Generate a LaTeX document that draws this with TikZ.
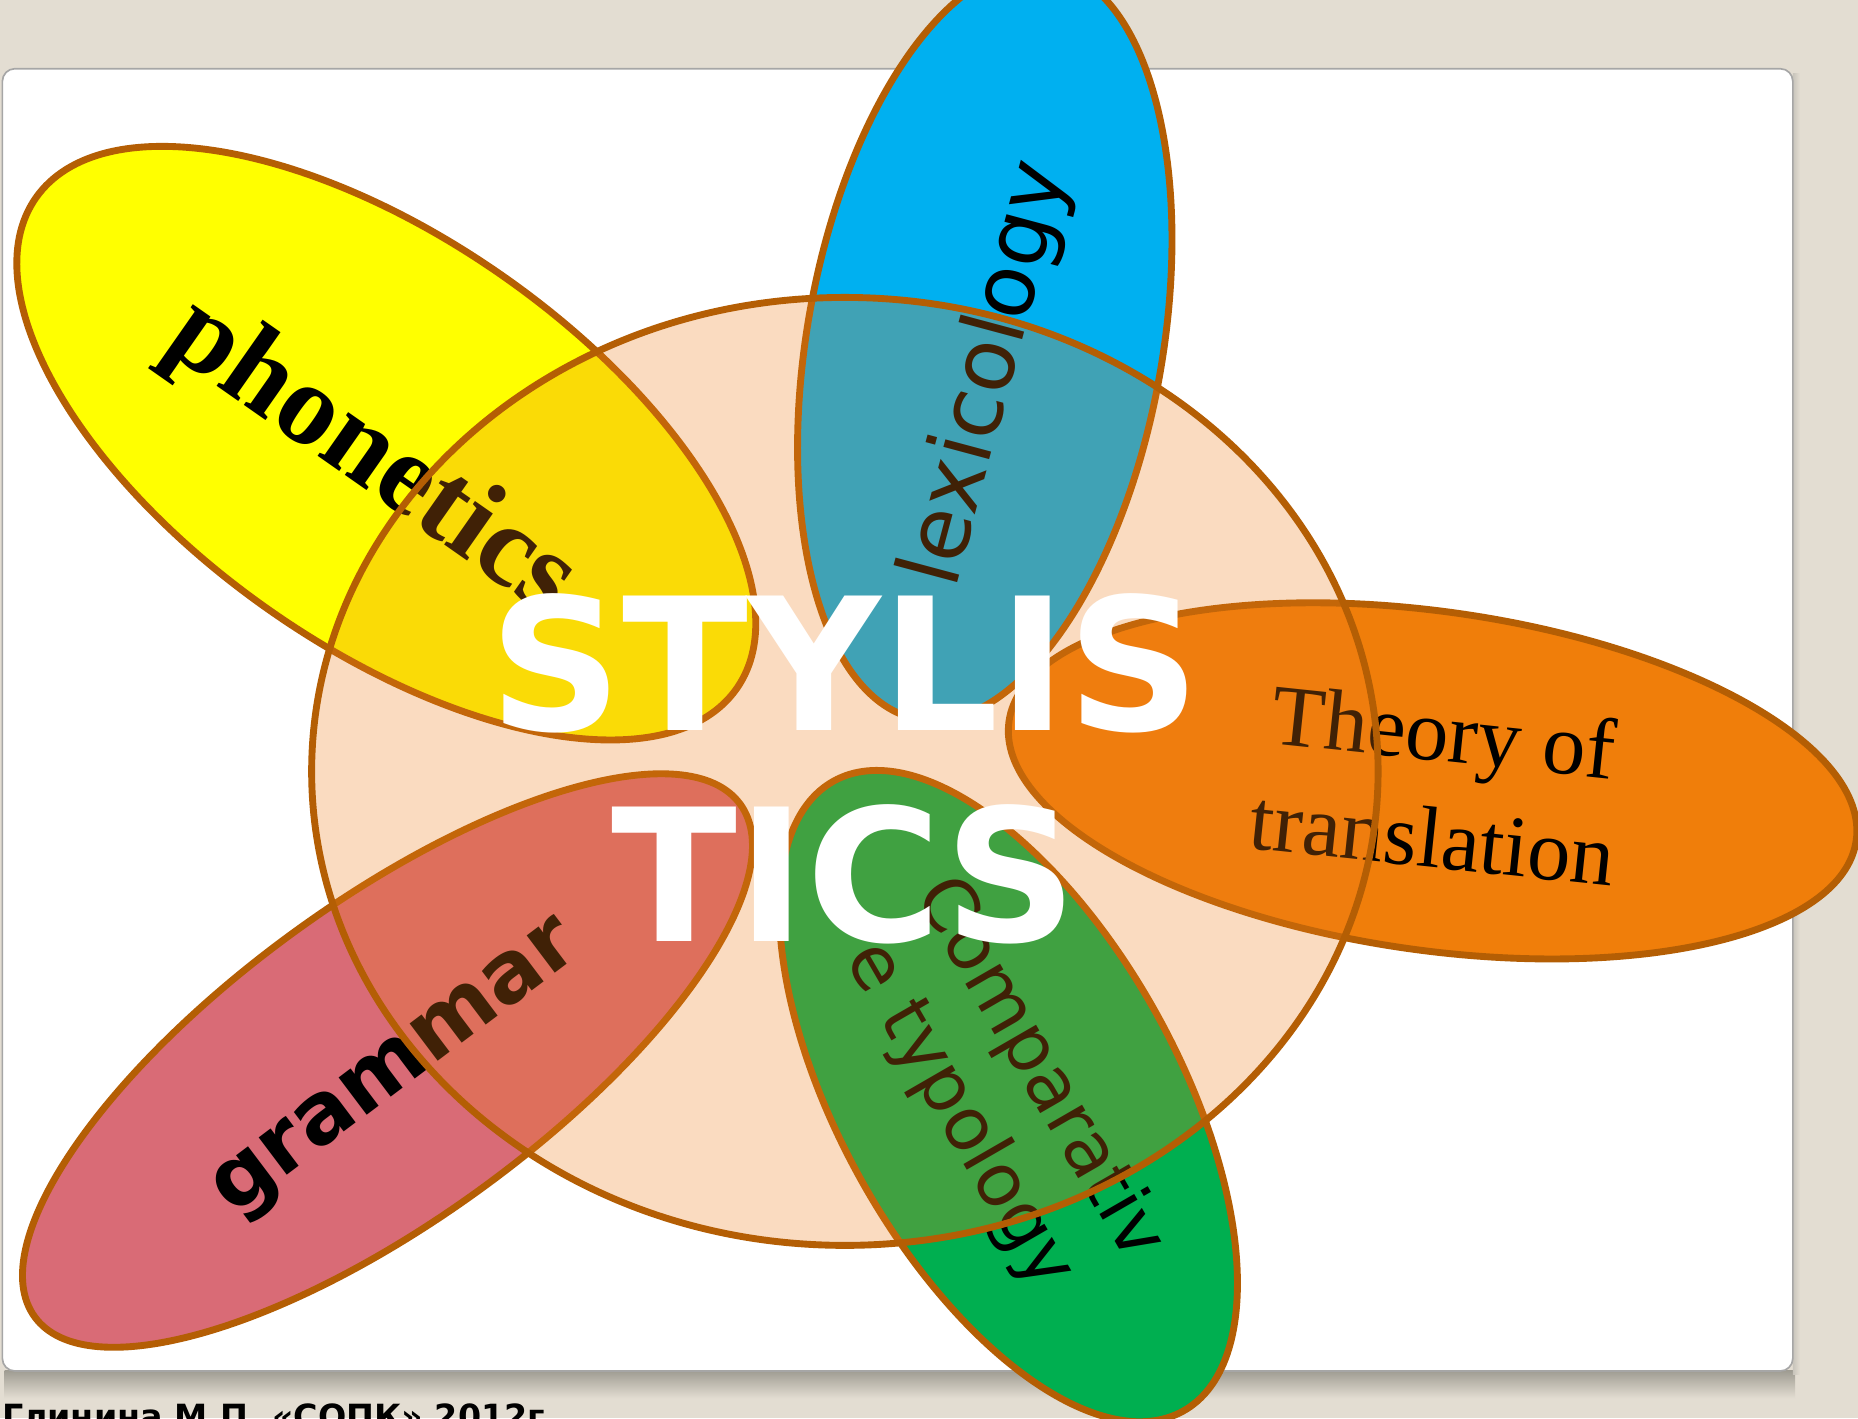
\documentclass[tikz,border=0pt]{standalone}
\usepackage{fontspec}
\setmainfont{Liberation Serif}
\newfontfamily\vsans{DejaVu Sans}

\definecolor{bgbeige}{RGB}{227,221,210}
\definecolor{rimbrown}{RGB}{180,94,4}
\definecolor{phoncol}{RGB}{255,255,0}
\definecolor{lexcol}{RGB}{0,176,240}
\definecolor{transcol}{RGB}{240,126,10}
\definecolor{compcol}{RGB}{0,175,80}
\definecolor{gramcol}{RGB}{217,107,118}
\definecolor{stylcol}{RGB}{237,125,25}

\begin{document}
\begin{tikzpicture}[x=0.1mm,y=-0.1mm,
	petal/.style={draw=rimbrown, line width=0.58mm},
	tag/.style={inner sep=0pt, align=center}]

	%%Canvas
	\useasboundingbox (0,0) rectangle (1568,1197);
	\fill[bgbeige] (0,0) rectangle (1568,1197);
	\clip (0,0) rectangle (1568,1197);

	%%Slide
	\shade[top color={rgb,255:red,160;green,157;blue,147}, bottom color=bgbeige] (4,1157) rectangle (1515,1180);
	\shade[left color={rgb,255:red,200;green,196;blue,187}, right color=bgbeige] (1513,62) rectangle (1519,1160);
	\filldraw[fill=white, draw=black!35, rounded corners=3] (2,58) rectangle (1513,1157);

	%%Centres
	\coordinate (cphon) at (326,374);
	\coordinate (clex) at (831,290);
	\coordinate (ctrans) at (1209,659);
	\coordinate (ccomp) at (851,925);
	\coordinate (cgram) at (327,895);
	\coordinate (ccore) at (713,651);

	%%Petals
	\filldraw[petal, fill=phoncol, rotate around={-35:(cphon)}] (cphon) ellipse [x radius=361, y radius=172];
	\filldraw[petal, fill=lexcol, rotate around={80:(clex)}] (clex) ellipse [x radius=322, y radius=150];
	\filldraw[petal, fill=transcol, rotate around={-8:(ctrans)}] (ctrans) ellipse [x radius=361, y radius=143];
	\filldraw[petal, fill=compcol, rotate around={-61:(ccomp)}] (ccomp) ellipse [x radius=304, y radius=143];
	\filldraw[petal, fill=gramcol, rotate around={36:(cgram)}] (cgram) ellipse [x radius=368, y radius=134];

	%%Labels
	\node[tag, rotate=-35, font={\fontsize{27.9}{32}\selectfont\bfseries}] (phon) at (313,388) {phonetics};
	\node[tag, rotate=75, font={\fontsize{20.8}{25}\selectfont\vsans}] (lexic) at (834,316) {lexicology};
	\node[tag, rotate=-6, font={\fontsize{20.8}{25.6}\selectfont}] (theory) at (1214,662) {Theory of\\translation};
	\node[tag, rotate=-60, font={\fontsize{17.6}{22.2}\selectfont\vsans}] (compar) at (843,922) {Comparativ\\e typology};
	\node[tag, rotate=37, font={\fontsize{20.5}{25}\selectfont\vsans\bfseries}] (gramm) at (337,905) {grammar};

	%%Core
	\filldraw[draw=rimbrown, line width=0.58mm, fill=stylcol, fill opacity=0.27] (ccore) ellipse [x radius=450, y radius=400];
	\node[tag, white, font={\fontsize{44.3}{50.6}\selectfont\vsans\bfseries}] (styl) at (713,649) {STYLIS\\TICS};

	%%Footer
	\node[anchor=north west, inner sep=0pt, font={\fontsize{8}{10}\selectfont\vsans\bfseries}] (foot) at (1,1184) {Глинина М.П. «СОПК» 2012г.};
\end{tikzpicture}
\end{document}
